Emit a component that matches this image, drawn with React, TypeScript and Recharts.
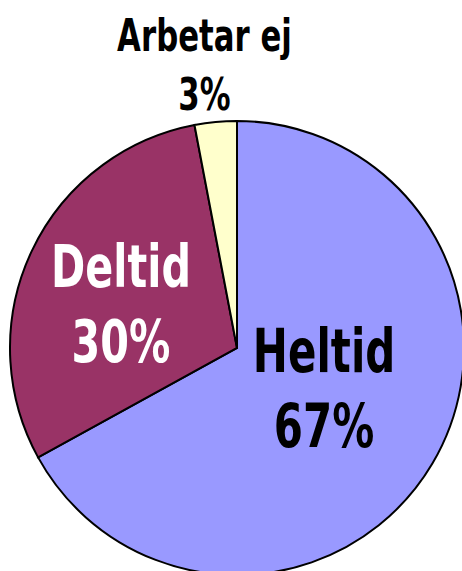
import React from 'react'
import { PieChart, Pie, Cell } from 'recharts'

const categories = ['Heltid', 'Deltid', 'Arbetar ej']
const shares = [67, 30, 3]
const sliceColors = ['#9999FF', '#993366', '#FFFFCC']

// label look per slice: text colour, font size, distance from centre (x outer radius), nudge, line gap
const labelStyles = [
  { fill: '#000000', size: 60, radius: 0.42, dx: 5, dy: -9, gap: 75 },
  { fill: '#FFFFFF', size: 59, radius: 0.55, dx: -3, dy: 8, gap: 75 },
  { fill: '#000000', size: 44, radius: 1.24, dx: -6, dy: -3, gap: 59 },
]

const data = categories.map((name, i) => ({ name, value: shares[i] }))

const RAD = Math.PI / 180

const renderLabel = (props: any) => {
  const { cx, cy, midAngle, outerRadius, index, name, value } = props
  const s = labelStyles[index]
  const r = outerRadius * s.radius
  const x = cx + r * Math.cos(-midAngle * RAD) + s.dx
  const y = cy + r * Math.sin(-midAngle * RAD) + s.dy
  const cap = s.size * 0.73
  const base = y + (cap - s.gap) / 2
  const textProps = {
    x: 0,
    textAnchor: 'middle' as const,
    fill: s.fill,
    fontFamily: '"DejaVu Sans", sans-serif',
    fontWeight: 'bold',
    fontSize: s.size,
  }
  return (
    <g transform={`translate(${x},${base}) scale(0.7,1)`}>
      <text {...textProps} y={0}>{name}</text>
      <text {...textProps} y={s.gap}>{`${value}%`}</text>
    </g>
  )
}

const App: React.FC = () => {
  return (
    <div style={{ position: 'absolute', left: 0, top: 0, background: '#fff' }}>
      <PieChart width={462} height={571} margin={{ top: 0, right: 0, bottom: 0, left: 0 }}>
        <Pie
          data={data}
          dataKey="value"
          nameKey="name"
          cx={237}
          cy={348}
          outerRadius={227}
          startAngle={90}
          endAngle={-270}
          stroke="#000000"
          strokeWidth={2}
          label={renderLabel}
          labelLine={false}
          isAnimationActive={false}
        >
          {data.map((d, i) => (
            <Cell key={d.name} fill={sliceColors[i]} />
          ))}
        </Pie>
      </PieChart>
    </div>
  )
}

export default App
